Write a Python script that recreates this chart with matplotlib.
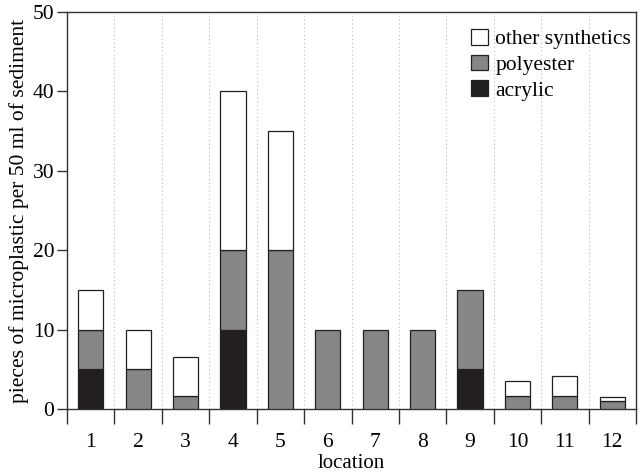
import matplotlib
matplotlib.use("Agg")
import matplotlib.pyplot as plt
import numpy as np
from matplotlib.patches import Patch

locations = ["1", "2", "3", "4", "5", "6", "7", "8", "9", "10", "11", "12"]
acrylic = [5, 0, 0, 10, 0, 0, 0, 0, 5, 0, 0, 0]
polyester = [5, 5, 1.6, 10, 20, 10, 10, 10, 10, 1.6, 1.6, 1.05]
other = [5, 5, 4.9, 20, 15, 0, 0, 0, 0, 1.9, 2.55, 0.42]

plt.rcParams['font.family'] = ['Liberation Serif', 'DejaVu Serif']

fig = plt.figure(figsize=(6.4, 4.73), dpi=100)
ax = fig.add_axes([67/640, 1-409/473, (636-67)/640, (409-12)/473])

x = np.arange(1, len(locations) + 1)
acr = np.array(acrylic)
pol = np.array(polyester)
oth = np.array(other)
edge = '#231f20'
w = 0.53
lw = 0.9

ax.bar(x, acr, w, color='#231f20', edgecolor=edge, linewidth=lw, zorder=3)
ax.bar(x, pol, w, bottom=acr, color='#868686', edgecolor=edge, linewidth=lw, zorder=3)
mask = oth > 0
ax.bar(x[mask], oth[mask], w, bottom=(acr + pol)[mask], color='white', edgecolor=edge, linewidth=lw, zorder=3)

ax.set_xlim(0.5, 12.5)
ax.set_ylim(0, 50)

# boundary ticks between bars
bounds = np.arange(0.5, 13.0, 1.0)
ax.set_xticks(bounds)
ax.set_xticklabels([])
ax.set_xticks(x, minor=True)
ax.set_xticklabels(locations, minor=True)
ax.tick_params(axis='x', which='major', direction='out', length=11, width=1.0, color='#333333')
ax.tick_params(axis='x', which='minor', length=0, labelsize=15.5, pad=17)
ax.set_yticks([0, 10, 20, 30, 40, 50])
ax.tick_params(axis='y', direction='out', length=7, width=1.0, color='#333333', labelsize=15.5, pad=2)

for b in bounds[1:-1]:
    ax.axvline(b, color='#bbbbbb', linestyle=(0, (1, 2.5)), linewidth=0.8, zorder=1)

for s in ax.spines.values():
    s.set_color('#333333')
    s.set_linewidth(1.0)

ax.set_xlabel('location', fontsize=15, labelpad=2)
ax.set_ylabel('pieces of microplastic per 50 ml of sediment', fontsize=15.5, labelpad=3)

handles = [Patch(facecolor='white', edgecolor=edge, linewidth=lw, label='other synthetics'),
           Patch(facecolor='#868686', edgecolor=edge, linewidth=lw, label='polyester'),
           Patch(facecolor='#231f20', edgecolor=edge, linewidth=lw, label='acrylic')]
ax.legend(handles=handles, loc='upper right', frameon=False, fontsize=15.5,
          handlelength=0.75, handleheight=0.75, handletextpad=0.35, labelspacing=0.25,
          borderaxespad=0.2, bbox_to_anchor=(1.014, 0.99))

fig.savefig('out.png', dpi=100)
